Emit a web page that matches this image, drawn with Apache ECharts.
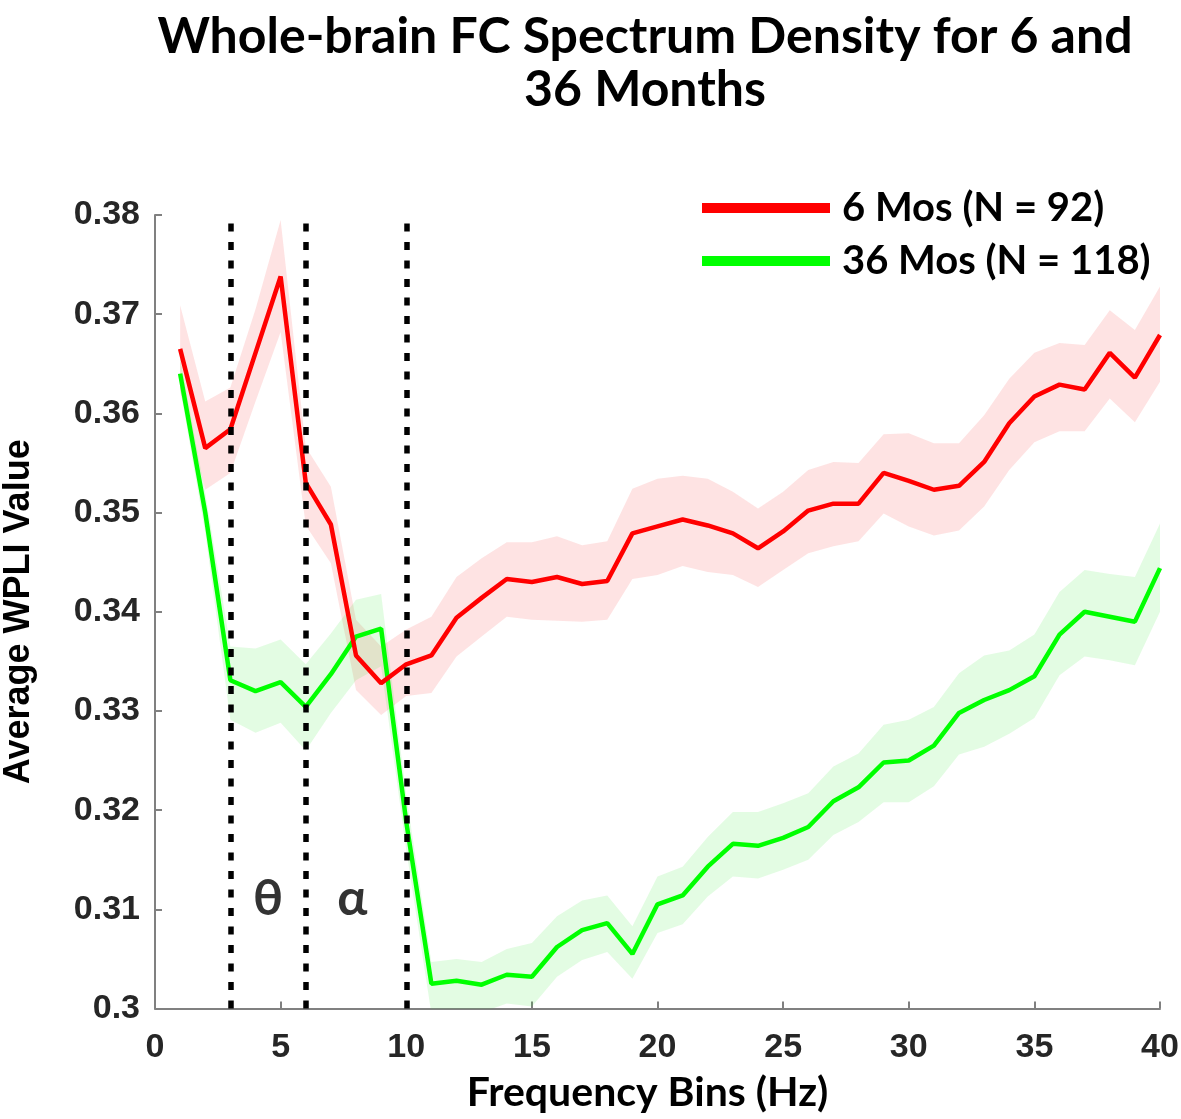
<!DOCTYPE html>
<html>
<head>
<meta charset="utf-8">
<script src="https://cdn.jsdelivr.net/npm/echarts@6/dist/echarts.min.js"></script>
<style>
html,body{margin:0;padding:0;background:#fff;}
#chart{width:1181px;height:1119px;}
</style>
</head>
<body>
<div id="chart"></div>
<script>
const freqs = [1,2,3,4,5,6,7,8,9,10,11,12,13,14,15,16,17,18,19,20,21,22,23,24,25,26,27,28,29,30,31,32,33,34,35,36,37,38,39,40];

const red6Mean = [0.3665,0.3565,0.3584,0.3661,0.3738,0.3530,0.3488,0.3356,0.3328,0.3347,
  0.3356,0.3394,0.3414,0.3433,0.3430,0.3435,0.3428,0.3431,0.3479,0.3486,
  0.3493,0.3487,0.3479,0.3464,0.3481,0.3502,0.3509,0.3509,0.3540,0.3532,
  0.3523,0.3527,0.3551,0.3590,0.3617,0.3629,0.3624,0.3661,0.3636,0.3679];
const red6Upper = [0.3709,0.3612,0.3626,0.3705,0.3795,0.3566,0.3526,0.3392,0.3365,0.3382,
  0.3395,0.3435,0.3454,0.3470,0.3470,0.3476,0.3467,0.3471,0.3524,0.3534,
  0.3537,0.3534,0.3521,0.3504,0.3521,0.3543,0.3551,0.3550,0.3579,0.3580,
  0.3570,0.3570,0.3598,0.3635,0.3661,0.3671,0.3669,0.3704,0.3684,0.3728];
const red6Lower = [0.3622,0.3523,0.3540,0.3612,0.3682,0.3487,0.3449,0.3321,0.3296,0.3315,
  0.3318,0.3355,0.3375,0.3395,0.3392,0.3391,0.3390,0.3392,0.3433,0.3437,
  0.3446,0.3440,0.3437,0.3425,0.3442,0.3459,0.3466,0.3471,0.3499,0.3486,
  0.3477,0.3482,0.3506,0.3543,0.3571,0.3582,0.3582,0.3615,0.3591,0.3632];

const green36Mean = [0.3640,0.3500,0.3331,0.3320,0.3329,0.3304,0.3337,0.3375,0.3383,0.3188,
  0.3025,0.3028,0.3024,0.3034,0.3032,0.3062,0.3079,0.3086,0.3055,0.3105,
  0.3114,0.3143,0.3166,0.3164,0.3172,0.3183,0.3209,0.3223,0.3248,0.3250,
  0.3265,0.3298,0.3311,0.3321,0.3335,0.3377,0.3400,0.3395,0.3390,0.3444];
const green36Upper = [0.3655,0.3520,0.3365,0.3363,0.3372,0.3347,0.3378,0.3412,0.3418,0.3215,
  0.3047,0.3050,0.3047,0.3060,0.3066,0.3093,0.3109,0.3114,0.3083,0.3133,
  0.3143,0.3173,0.3198,0.3198,0.3207,0.3217,0.3244,0.3257,0.3286,0.3291,
  0.3304,0.3338,0.3356,0.3361,0.3377,0.3420,0.3442,0.3438,0.3435,0.3489];
const green36Lower = [0.3625,0.3480,0.3291,0.3278,0.3288,0.3260,0.3298,0.3331,0.3345,0.3160,
  0.2995,0.2998,0.2996,0.3005,0.3002,0.3032,0.3049,0.3057,0.3030,0.3076,
  0.3085,0.3113,0.3133,0.3131,0.3140,0.3150,0.3175,0.3188,0.3208,0.3208,
  0.3224,0.3256,0.3264,0.3277,0.3293,0.3336,0.3355,0.3351,0.3346,0.3400];

const seriesNames = ['6 Mos (N = 92)', '36 Mos (N = 118)'];
const bandEdges = [3, 6, 10];
const bandLabels = ['θ', 'α'];
const bandLabelPos = [[4.5, 0.3111], [7.85, 0.3111]];
const yTicks = ['0.3','0.31','0.32','0.33','0.34','0.35','0.36','0.37','0.38'];

const pairs = (ys) => freqs.map((f, i) => [f, ys[i]]);

const labelFont = '"Liberation Sans", Arial, sans-serif';
const calibriLike = 'Lato, "Noto Sans", sans-serif';

function bandSeries(lower, upper, fill) {
  return {
    type: 'custom', silent: true, clip: true, z: 1,
    data: freqs.map((f, i) => [f, lower[i], upper[i]]),
    encode: {x: 0, y: [1, 2]},
    renderItem: (params, api) => {
      if (params.dataIndex !== 0) return null;
      const top = freqs.map((f, i) => api.coord([f, upper[i]]));
      const bot = freqs.map((f, i) => api.coord([f, lower[i]])).reverse();
      return {type: 'polygon', shape: {points: top.concat(bot)}, style: {fill: fill}};
    }
  };
}

const chart = echarts.init(document.getElementById('chart'), null, {renderer: 'canvas'});
chart.setOption({
  backgroundColor: '#ffffff',
  animation: false,
  title: {
    text: 'Whole-brain FC Spectrum Density for 6 and\n36 Months',
    left: 645,
    top: 10,
    padding: 0,
    textAlign: 'center',
    textStyle: {fontFamily: calibriLike, fontWeight: 'bold', fontSize: 50, lineHeight: 53, color: '#000'}
  },
  legend: {
    data: seriesNames,
    orient: 'vertical',
    left: 697,
    top: 182,
    itemWidth: 128,
    itemHeight: 10,
    itemGap: 11,
    icon: 'rect',
    selectedMode: false,
    textStyle: {fontFamily: calibriLike, fontWeight: 'bold', fontSize: 40, lineHeight: 42, color: '#000', padding: [0, 0, 0, 7]}
  },
  grid: {left: 155, right: 21, top: 215, bottom: 110.5, containLabel: false, outerBoundsMode: 'none'},
  xAxis: {
    type: 'value', min: 0, max: 40, interval: 5,
    name: 'Frequency Bins (Hz)', nameLocation: 'middle', nameGap: 64,
    nameTextStyle: {fontFamily: calibriLike, fontWeight: 'bold', fontSize: 41, color: '#000', padding: [0, 20, 0, 0]},
    axisLine: {lineStyle: {color: '#808080', width: 2}},
    axisTick: {inside: true, length: 7, lineStyle: {color: '#808080', width: 2}},
    axisLabel: {margin: 22, fontFamily: labelFont, fontWeight: 'bold', fontSize: 34, color: '#262626'},
    splitLine: {show: false}
  },
  yAxis: {
    type: 'value', min: 0.3, max: 0.38, interval: 0.01,
    name: 'Average WPLI Value', nameLocation: 'middle', nameGap: 118, nameRotate: 90,
    nameTextStyle: {fontFamily: labelFont, fontWeight: 'bold', fontSize: 36, color: '#000'},
    axisLine: {show: true, lineStyle: {color: '#808080', width: 2}},
    axisTick: {show: true, inside: true, length: 7, lineStyle: {color: '#808080', width: 2}},
    axisLabel: {
      margin: 15, fontFamily: labelFont, fontWeight: 'bold', fontSize: 34, color: '#262626',
      formatter: (v) => yTicks[Math.round((v - 0.3) / 0.01)]
    },
    splitLine: {show: false}
  },
  series: [
    bandSeries(red6Lower, red6Upper, 'rgba(250,40,40,0.13)'),
    bandSeries(green36Lower, green36Upper, 'rgba(40,230,40,0.13)'),
    {type: 'line', name: seriesNames[1], data: pairs(green36Mean), symbol: 'none',
     color: '#00ff00', lineStyle: {color: '#00ff00', width: 4.5}, z: 3},
    {type: 'line', name: seriesNames[0], data: pairs(red6Mean), symbol: 'none',
     color: '#ff0000', lineStyle: {color: '#ff0000', width: 4.5}, z: 4},
    {type: 'line', data: [], z: 6, silent: true,
     markLine: {
       symbol: 'none', silent: true, animation: false,
       label: {show: false},
       lineStyle: {color: '#000', width: 5.5, type: [8, 10.5]},
       data: bandEdges.map(x => ({xAxis: x}))
     }},
    {type: 'scatter', symbolSize: 0, silent: true, z: 7,
     data: bandLabelPos.map((p, i) => ({value: p, name: bandLabels[i]})),
     label: {show: true, position: 'inside', formatter: (p) => p.name,
       fontFamily: calibriLike, fontWeight: 'bold', fontSize: 50, color: '#000'}}
  ]
});
</script>
</body>
</html>
